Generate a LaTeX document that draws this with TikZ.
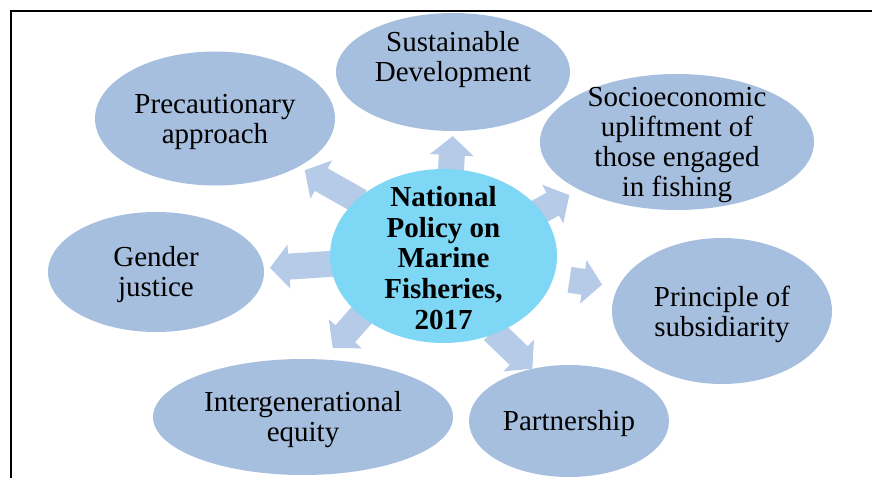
\documentclass[tikz,border=0pt]{standalone}
\usepackage{fontspec}
\setmainfont{Liberation Serif}
\usetikzlibrary{arrows.meta,shapes.geometric,backgrounds}
\definecolor{ovalblue}{RGB}{167,191,222}
\definecolor{hubblue}{RGB}{127,215,246}
\definecolor{arrowblue}{RGB}{181,203,232}

\begin{document}
\begin{tikzpicture}[x=1pt,y=-1pt]
\tikzset{oval/.style = {shape=ellipse, fill=ovalblue, inner sep=0pt}}
\tikzset{hub/.style = {shape=ellipse, fill=hubblue, inner sep=0pt, minimum width=227pt, minimum height=174pt}}
\tikzset{txt/.style = {align=center, inner sep=0pt, font=\fontsize{29pt}{30pt}\selectfont}}
\tikzset{blk/.style = {draw=arrowblue, line width=26pt, -{Triangle[length=19pt,width=43pt]}}}
\useasboundingbox (0,0) rectangle (872,478);
\draw[line width=2pt] (872,11) -- (11,11) -- (11,478);

\node[hub] (c) at (443.5,256) {};
\node[txt, font=\fontsize{29pt}{30.8pt}\selectfont\bfseries] (c-t) at ([yshift=-2pt]c) {National\\Policy on\\Marine\\Fisheries,\\2017};

\foreach \pos/\name/\w/\h in {{(453,72)/sd/234/118}, {(215,118.5)/pa/240/134}, {(677,142)/se/274/136}, {(156,272)/gj/216/120}, {(303,417)/ig/300/116}, {(569,421)/pt/200/112}, {(722,311)/pr/220/146}}
\node[oval, minimum width=\w pt, minimum height=\h pt] (\name) at \pos {};

\foreach \name/\dy/\txt in {sd/12/{Sustainable\\Development}, pa/-3/{Precautionary\\approach}, se/-3/{Socioeconomic\\upliftment of\\those engaged\\in fishing}, gj/-3/{Gender\\justice}, ig/-3/{Intergenerational\\equity}, pt/-3/{Partnership}, pr/-3/{Principle of\\subsidiarity}}
\node[txt] (\name-t) at ([yshift=\dy pt]\name) {\txt};

% block arrows sit behind the ovals
\begin{scope}[on background layer]
\foreach \from/\to/\s/\e in {c.85/sd.south/-4/5, c.147/pa.-30/-4/7, c.184/gj.2/-4/6, c.216/ig.71/-4/15, c.-56/pt.125/-4/0, c.-11/pr.167/16/16, c.25/se.206/-4/11}
\draw[blk, shorten <=\s pt, shorten >=\e pt] (\from) -- (\to);
\end{scope}
\end{tikzpicture}
\end{document}
